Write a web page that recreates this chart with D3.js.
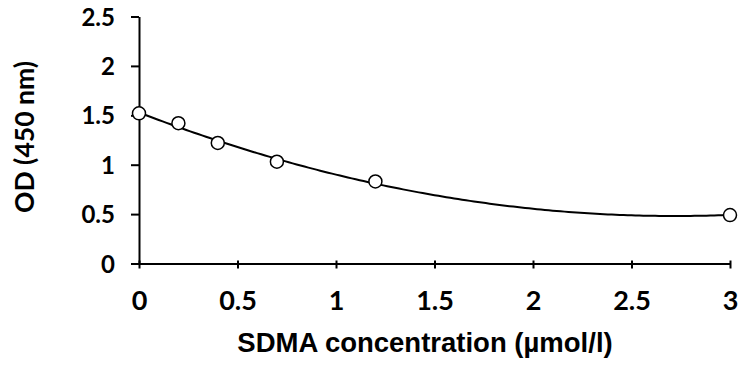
<!DOCTYPE html>
<html><head><meta charset="utf-8">
<script src="https://cdn.jsdelivr.net/npm/d3@7"></script>
<style>body{margin:0;background:#fff}svg{display:block}</style>
</head><body>
<svg id="c" width="739" height="368"></svg>
<script>
const concentrations = [0, 0.2, 0.4, 0.7, 1.2, 3];
const odValues = [1.52, 1.42, 1.22, 1.03, 0.83, 0.49];
const xTicks = [0, 0.5, 1, 1.5, 2, 2.5, 3];
const yTicks = [0, 0.5, 1, 1.5, 2, 2.5];
const xTitle = "SDMA concentration (µmol/l)";
const yTitle = "OD (450 nm)";

const svg = d3.select("#c");
const x = d3.scaleLinear().domain([0, 3]).range([139, 730]);
const y = d3.scaleLinear().domain([0, 2.5]).range([263.5, 16.5]);

// quadratic least-squares trendline
function polyfit2(xs, ys) {
  const n = xs.length;
  let S = [0,0,0,0,0], T = [0,0,0];
  for (let i = 0; i < n; i++) {
    for (let k = 0; k < 5; k++) S[k] += Math.pow(xs[i], k);
    for (let k = 0; k < 3; k++) T[k] += ys[i] * Math.pow(xs[i], k);
  }
  const A = [[S[0],S[1],S[2],T[0]],[S[1],S[2],S[3],T[1]],[S[2],S[3],S[4],T[2]]];
  for (let i = 0; i < 3; i++) {
    for (let j = i+1; j < 3; j++) {
      const f = A[j][i]/A[i][i];
      for (let k = i; k < 4; k++) A[j][k] -= f*A[i][k];
    }
  }
  const c = [0,0,0];
  for (let i = 2; i >= 0; i--) {
    let s = A[i][3];
    for (let k = i+1; k < 3; k++) s -= A[i][k]*c[k];
    c[i] = s/A[i][i];
  }
  return c;
}
const coef = polyfit2(concentrations, odValues);
const curve = d3.range(0, 3.0001, 0.02).map(v => [v, coef[0] + coef[1]*v + coef[2]*v*v]);

const tickFont = "Lato, 'Open Sans', sans-serif";

// axes
const xAxis = d3.axisBottom(x).tickValues(xTicks).tickSize(7).tickSizeOuter(0).tickFormat(d3.format("~g"));
const gx = svg.append("g").attr("transform", `translate(0,${y(0)})`).call(xAxis);
gx.selectAll(".tick line").attr("y1", -3).attr("y2", 5);
gx.select(".domain").attr("stroke-width", 2);
gx.selectAll(".tick line").attr("stroke-width", 2);
gx.selectAll("text").attr("dy", 0).attr("y", 46).style("font-family", tickFont)
  .style("font-size", "27px").style("font-weight", "bold").attr("fill", "#000");

const yAxis = d3.axisLeft(y).tickValues(yTicks).tickSize(8).tickSizeOuter(0).tickFormat(d3.format("~g"));
const gy = svg.append("g").attr("transform", `translate(${x(0)},0)`).call(yAxis);
gy.select(".domain").attr("stroke-width", 2);
gy.selectAll(".tick line").attr("stroke-width", 2);
gy.selectAll("text").attr("x", -24).attr("dy", "0.36em").style("font-family", tickFont)
  .style("font-size", "24px").style("font-weight", "bold").attr("fill", "#000");

// curve
svg.append("path").datum(curve)
  .attr("d", d3.line().x(d => x(d[0])).y(d => y(d[1])))
  .attr("fill", "none").attr("stroke", "#000").attr("stroke-width", 2);

// points
svg.selectAll("circle.pt").data(concentrations).enter().append("circle")
  .attr("class", "pt")
  .attr("cx", d => x(d)).attr("cy", (d, i) => y(odValues[i]))
  .attr("r", 6.5).attr("fill", "#fff").attr("stroke", "#000").attr("stroke-width", 1.5);

// titles
svg.append("text").attr("x", 425).attr("y", 352).attr("text-anchor", "middle")
  .style("font-family", "'Liberation Sans', Arial, sans-serif").style("font-size", "27.5px")
  .style("font-weight", "bold").text(xTitle);
svg.append("text").attr("transform", "translate(34,137) rotate(-90)").attr("text-anchor", "middle")
  .style("font-family", tickFont).style("font-size", "26.5px")
  .style("font-weight", "bold").text(yTitle);
</script>
</body></html>
